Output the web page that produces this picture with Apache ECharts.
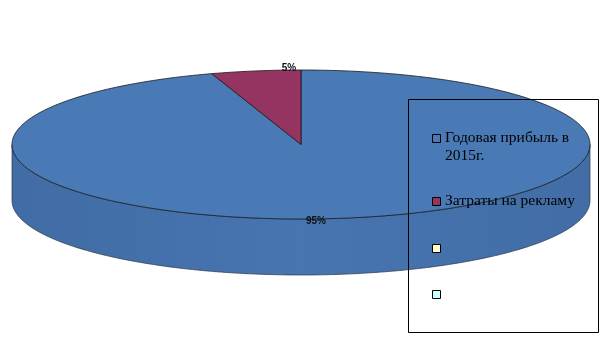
<!DOCTYPE html>
<html><head><meta charset="utf-8">
<script src="https://cdn.jsdelivr.net/npm/echarts@6/dist/echarts.min.js"></script>
<style>html,body{margin:0;padding:0;background:#fff}#c{width:605px;height:340px}</style>
</head><body><div id="c"></div>
<script>
// ---- data ----
const categories = ['Годовая прибыль в 2015г.', 'Затраты на рекламу', '', ''];
const values = [95, 5];
const legendLabels = ['Годовая прибыль в\n2015г.', 'Затраты на рекламу', '', ''];

// ---- styles ----
const colors = ['#4A7AB6', '#963461', '#FFFFCC', '#CCFFFF'];
const sideColors = [['#416CA5', '#4775B0', '#426DA6'], ['#7A2A4F', '#86305A', '#7A2A4F']];
const G = { cx: 301, cy: 144.5, rx: 289, ry: 74.5, depth: 56 };
const labelPos = [[316, 221], [289, 68]];
const legendSquares = [134, 197, 244, 290];

const total = values.reduce((a, b) => a + b, 0);

function arcPts(a0, a1, dy) {
  const pts = [];
  const n = Math.max(2, Math.ceil(Math.abs(a1 - a0)));
  for (let i = 0; i <= n; i++) {
    const t = (a0 + (a1 - a0) * i / n) * Math.PI / 180;
    pts.push([G.cx + G.rx * Math.sin(t), G.cy - G.ry * Math.cos(t) + dy]);
  }
  return pts;
}

function renderItem(params, api) {
  const i = params.dataIndex;
  let cum = 0;
  for (let k = 0; k < i; k++) cum += values[k];
  const v = api.value(0);
  const a0 = cum / total * 360, a1 = (cum + v) / total * 360;
  const children = [];
  const s0 = Math.max(a0, 90), s1 = Math.min(a1, 270);
  if (s1 > s0) {
    const sc = sideColors[i % sideColors.length];
    children.push({
      type: 'polygon', z2: 1,
      shape: { points: arcPts(s0, s1, 0).concat(arcPts(s0, s1, G.depth).reverse()) },
      style: {
        fill: new echarts.graphic.LinearGradient(0, 0, 1, 0, [
          { offset: 0, color: sc[0] }, { offset: 0.5, color: sc[1] }, { offset: 1, color: sc[2] }
        ]),
        stroke: '#2a3548', lineWidth: 0.7
      }
    });
  }
  children.push({
    type: 'polygon', z2: 10,
    shape: { points: [[G.cx, G.cy]].concat(arcPts(a0, a1, 0)) },
    style: { fill: colors[i], stroke: '#1a1a1a', lineWidth: 0.8, lineJoin: 'round' }
  });
  children.push({
    type: 'text', z2: 20,
    x: labelPos[i][0], y: labelPos[i][1],
    style: {
      text: Math.round(v / total * 100) + '%',
      font: 'bold 10px "Liberation Sans", Arial, sans-serif',
      fill: '#111', align: 'center', verticalAlign: 'middle'
    }
  });
  return { type: 'group', children };
}

const legendEls = [{
  type: 'rect', z: 100,
  shape: { x: 408.5, y: 99.5, width: 190, height: 233 },
  style: { fill: 'none', stroke: '#000', lineWidth: 1 }
}];
legendLabels.forEach((lab, i) => {
  const y = legendSquares[i];
  legendEls.push({
    type: 'rect', z: 100,
    shape: { x: 432.5, y: y + 0.5, width: 8, height: 8 },
    style: { fill: colors[i], stroke: '#000', lineWidth: 1 }
  });
  legendEls.push({
    type: 'text', z: 100, x: 445, y: y + 4 - 9,
    style: {
      text: lab, font: '15.5px "Liberation Serif", "Times New Roman", serif',
      fill: '#000', lineHeight: 18, verticalAlign: 'top', align: 'left'
    }
  });
});

const chart = echarts.init(document.getElementById('c'));
chart.setOption({
  animation: false,
  backgroundColor: '#fff',
  graphic: legendEls,
  series: [{
    type: 'custom',
    coordinateSystem: 'none',
    renderItem,
    data: values.map((v, i) => ({ value: v, name: categories[i] }))
  }]
});
</script>
</body></html>
